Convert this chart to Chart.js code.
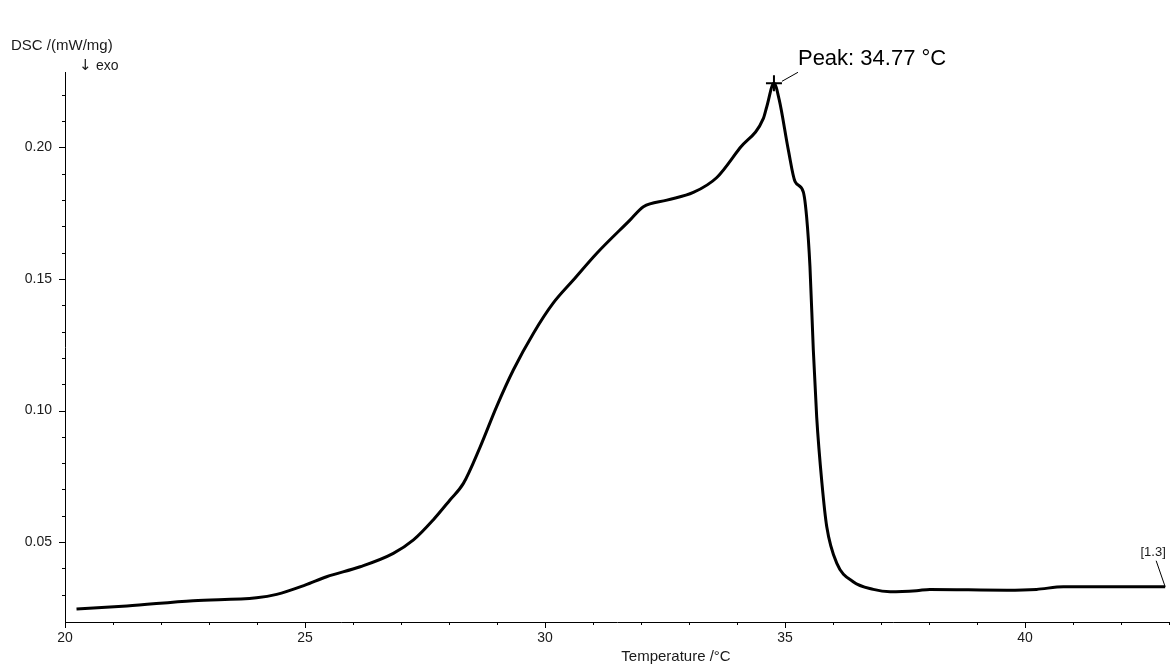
<!DOCTYPE html>
<html lang="en">
<head>
    <meta charset="UTF-8">
    <title>DSC</title>
    <style>
        body {
            margin: 0;
            background: #fff;
        }
        .wrap {
            width: 1170px;
            height: 665px;
            position: relative;
        }
    </style>
    <script src="https://cdn.jsdelivr.net/npm/chart.js"></script>
</head>
<body>
    <div class="wrap">
        <canvas id="dscChart"></canvas>
    </div>
    <script>
        // temperature, °C
        const temps = [20.24, 21.29, 22.67, 23.99, 24.41, 25.00, 25.45, 26.15, 26.84, 27.26,
            27.67, 28.02, 28.30, 28.65, 28.99, 29.34, 29.76, 30.17, 30.59, 31.08,
            31.77, 32.05, 32.54, 33.09, 33.58, 34.06, 34.55, 34.62, 34.77, 34.88,
            35.07, 35.21, 35.38, 35.45, 35.52, 35.59, 35.66, 35.77, 35.87, 36.08,
            36.42, 36.84, 37.19, 37.74, 38.02, 39.62, 40.24, 40.80, 42.92];
        // DSC signal, mW/mg
        const dsc = [0.0245, 0.0257, 0.0277, 0.0288, 0.0301, 0.0336, 0.0368, 0.0406, 0.0457, 0.0508,
            0.0584, 0.0660, 0.0723, 0.0862, 0.1014, 0.1154, 0.1294, 0.1408, 0.1496, 0.1598,
            0.1724, 0.1775, 0.1800, 0.1829, 0.1886, 0.1998, 0.2111, 0.2155, 0.2244, 0.2181,
            0.1990, 0.1870, 0.1832, 0.1737, 0.1547, 0.1230, 0.0976, 0.0723, 0.0558, 0.0419,
            0.0349, 0.0320, 0.0311, 0.0315, 0.0320, 0.0317, 0.0320, 0.0330, 0.0330];

        const peakT = 34.77;
        const peakV = 0.2244;
        const curveTag = '[1.3]';

        const xTicks = [20, 25, 30, 35, 40];
        const xMinorTicks = [20, 21, 22, 23, 24, 25, 26, 27, 28, 29, 30, 31, 32, 33, 34, 35, 36, 37, 38, 39, 40, 41, 42, 43];
        const yTicks = [0.05, 0.10, 0.15, 0.20];
        const yMinorTicks = [0.03, 0.04, 0.05, 0.06, 0.07, 0.08, 0.09, 0.10, 0.11, 0.12, 0.13, 0.14, 0.15, 0.16, 0.17, 0.18, 0.19, 0.20, 0.21, 0.22];

        const FONT = '"Liberation Sans", Arial, sans-serif';
        const TEXT = '#1a1a1a';

        // outward tick marks (long on labelled values), labels and annotations
        const decor = {
            id: 'decor',
            afterDraw(chart) {
                const ctx = chart.ctx;
                const x = chart.scales.x;
                const y = chart.scales.y;
                const isMajor = (list, v) => list.some(t => Math.abs(t - v) < 1e-9);

                ctx.save();
                ctx.strokeStyle = '#000';
                ctx.lineWidth = 1;
                ctx.beginPath();
                xMinorTicks.forEach(v => {
                    const px = Math.round(x.getPixelForValue(v)) + 0.5;
                    const len = isMajor(xTicks, v) ? 6 : 3;
                    ctx.moveTo(px, x.top);
                    ctx.lineTo(px, x.top + len);
                });
                yMinorTicks.forEach(v => {
                    const py = Math.round(y.getPixelForValue(v)) + 0.5;
                    const len = isMajor(yTicks, v) ? 6 : 3;
                    ctx.moveTo(y.right, py);
                    ctx.lineTo(y.right - len, py);
                });
                ctx.stroke();

                // axis captions
                ctx.fillStyle = TEXT;
                ctx.font = '15px ' + FONT;
                ctx.textBaseline = 'middle';
                ctx.textAlign = 'left';
                ctx.fillText('DSC /(mW/mg)', 11, 46);
                ctx.font = '15px "DejaVu Sans", sans-serif';
                ctx.fillText('\u2193', 79, 66);
                ctx.font = '14px ' + FONT;
                ctx.fillText('exo', 96, 66);
                ctx.font = '15px ' + FONT;
                ctx.textAlign = 'center';
                ctx.fillText('Temperature /\u00B0C', 676, 657);

                // peak label with leader
                const pk = chart.getDatasetMeta(1).data[0];
                ctx.beginPath();
                ctx.moveTo(pk.x + 8, pk.y - 2);
                ctx.lineTo(pk.x + 24, pk.y - 11);
                ctx.stroke();
                ctx.font = '22px ' + FONT;
                ctx.textAlign = 'left';
                ctx.fillStyle = '#000';
                ctx.fillText('Peak: ' + peakT.toFixed(2) + ' \u00B0C', pk.x + 24, pk.y - 24);

                // curve tag at the end of the trace
                const pts = chart.getDatasetMeta(0).data;
                const end = pts[pts.length - 1];
                ctx.beginPath();
                ctx.moveTo(end.x, end.y);
                ctx.lineTo(end.x - 9, end.y - 26);
                ctx.stroke();
                ctx.font = '13px ' + FONT;
                ctx.textAlign = 'center';
                ctx.fillStyle = TEXT;
                ctx.fillText(curveTag, end.x - 12, end.y - 34);
                ctx.restore();
            }
        };

        const ctx = document.getElementById('dscChart').getContext('2d');
        new Chart(ctx, {
            type: 'line',
            data: {
                datasets: [{
                    data: temps.map((t, i) => ({ x: t, y: dsc[i] })),
                    borderColor: '#000',
                    borderWidth: 3,
                    pointRadius: 0,
                    cubicInterpolationMode: 'monotone',
                    borderJoinStyle: 'round',
                    fill: false
                }, {
                    data: [{ x: peakT, y: peakV }],
                    showLine: false,
                    pointStyle: 'cross',
                    pointRadius: 8,
                    borderWidth: 2,
                    borderColor: '#000',
                    backgroundColor: '#000'
                }]
            },
            options: {
                responsive: true,
                maintainAspectRatio: false,
                animation: false,
                events: [],
                layout: {
                    autoPadding: false,
                    padding: { top: 72, right: 1, left: 0, bottom: 0 }
                },
                plugins: {
                    legend: { display: false },
                    tooltip: { enabled: false }
                },
                scales: {
                    x: {
                        type: 'linear',
                        min: 20,
                        max: 43,
                        grid: { display: false, drawTicks: false },
                        border: { display: true, color: '#000', width: 1 },
                        afterBuildTicks: scale => { scale.ticks = xTicks.map(v => ({ value: v })); },
                        afterFit: scale => {
                            scale.height = 43;
                            scale.paddingLeft = 0;
                            scale.paddingRight = 0;
                        },
                        ticks: {
                            color: TEXT,
                            padding: 8,
                            maxRotation: 0,
                            autoSkip: false,
                            font: { family: FONT, size: 14 },
                            callback: v => String(v)
                        }
                    },
                    y: {
                        type: 'linear',
                        min: 0.0196,
                        max: 0.2287,
                        grid: { display: false, drawTicks: false },
                        border: { display: true, color: '#000', width: 1 },
                        afterBuildTicks: scale => { scale.ticks = yTicks.map(v => ({ value: v })); },
                        afterFit: scale => {
                            scale.width = 65;
                            scale.paddingTop = 0;
                            scale.paddingBottom = 0;
                        },
                        ticks: {
                            color: TEXT,
                            padding: 13,
                            autoSkip: false,
                            font: { family: FONT, size: 14 },
                            callback: v => v.toFixed(2)
                        }
                    }
                }
            },
            plugins: [decor]
        });
    </script>
</body>
</html>
